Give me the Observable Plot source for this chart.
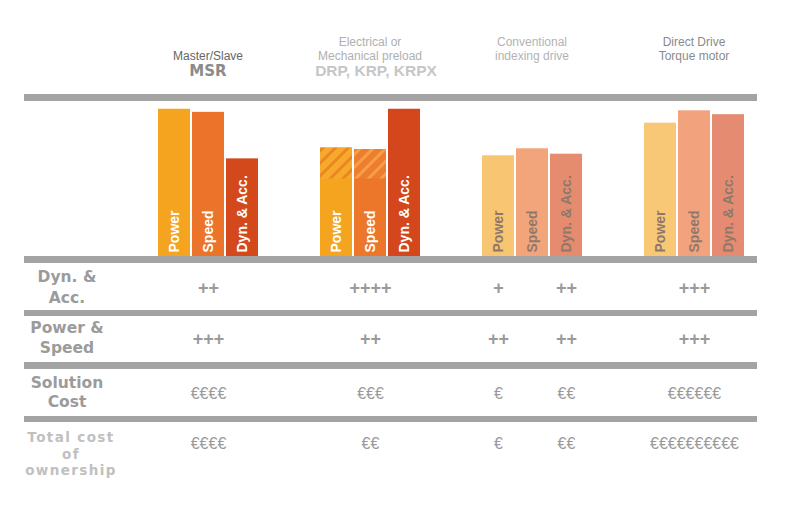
<!DOCTYPE html>
<html><head><meta charset="utf-8">
<script src="https://cdn.jsdelivr.net/npm/d3@7"></script>
<script src="https://cdn.jsdelivr.net/npm/@observablehq/plot@0.6"></script>
<style>
html,body{margin:0;padding:0;background:#fff;}
#wrap{position:relative;width:800px;height:520px;overflow:hidden;font-family:"Liberation Sans",Arial,sans-serif;}
#wrap svg{position:absolute;left:0;top:0;}
.rule{position:absolute;left:24px;width:733px;background:#a3a3a3;}
.rowlabel{position:absolute;width:130px;text-align:center;font-family:"DejaVu Sans",sans-serif;font-weight:bold;color:#9b9b9b;font-size:15.5px;height:18px;line-height:18px;white-space:nowrap;}
.rowlabel.light{color:#c0c0c0;font-size:13.5px;letter-spacing:1.4px;height:16px;line-height:16px;}
</style></head><body><div id="wrap"></div>
<script>
// ---- data ----
const groups = ["MSR", "DRP", "Conventional", "Direct Drive"];
const metrics = ["Power", "Speed", "Dyn. & Acc."];
const msrValues = [9.5, 9.3, 6.3];
const drpValues = [7.0, 6.9, 9.5];
const drpSolidValues = [5.0, 5.0];          // Power, Speed below the hatched preload zone
const convValues = [6.5, 6.95, 6.6];
const ddValues = [8.6, 9.4, 9.15];

const headerLines = {
  "MSR": ["Master/Slave"],
  "DRP": ["Electrical or", "Mechanical preload"],
  "Conventional": ["Conventional", "indexing drive"],
  "Direct Drive": ["Direct Drive", "Torque motor"]
};
const headerBold = {"MSR": "MSR", "DRP": "DRP, KRP, KRPX"};

const rowLabels = [["Dyn. &", "Acc."], ["Power &", "Speed"], ["Solution", "Cost"], ["Total cost", "of", "ownership"]];
const tableCells = [["MSR", "Speed"], ["DRP", "Speed"], ["Conventional", "Power"], ["Conventional", "Dyn. & Acc."], ["Direct Drive", "Speed"]];
const rowDynAcc = ["++", "++++", "+", "++", "+++"];
const rowPowerSpeed = ["+++", "++", "++", "++", "+++"];
const rowSolutionCost = ["€€€€", "€€€", "€", "€€", "€€€€€€"];
const rowTotalCost = ["€€€€", "€€", "€", "€€", "€€€€€€€€€€"];

// ---- styles ----
const barColors = {
  "MSR": ["#F4A41F", "#EB742A", "#D4491C"],
  "DRP": ["#F4A41F", "#EC762A", "#D4461B"],
  "Conventional": ["#F8C672", "#F2A57B", "#E58C6F"],
  "Direct Drive": ["#F8C877", "#F2A37E", "#E48B71"]
};
const labelColors = {"MSR": "#ffffff", "DRP": "#ffffff", "Conventional": "#8f786b", "Direct Drive": "#8f786b"};
const headerColors = {"MSR": "#666666", "DRP": "#b0b0b0", "Conventional": "#b3b3b3", "Direct Drive": "#8a8a8a"};
const boldColors = {"MSR": "#8a8a8a", "DRP": "#c6c6c6"};

// ---- tables built from the arrays ----
const seriesByGroup = {"MSR": msrValues, "DRP": drpValues, "Conventional": convValues, "Direct Drive": ddValues};
const barData = groups.flatMap(g => metrics.map((m, i) => ({group: g, metric: m, value: seriesByGroup[g][i]})));
const hatchData = drpSolidValues.map((v, i) => ({group: "DRP", metric: metrics[i], base: v, value: drpValues[i]}));
const headerData = groups.flatMap(g => headerLines[g].map((t, i) => ({group: g, text: t, fromBottom: headerLines[g].length - 1 - i})));
const boldData = Object.keys(headerBold).map(g => ({group: g, text: headerBold[g]}));
const tableRows = [rowDynAcc, rowPowerSpeed, rowSolutionCost, rowTotalCost].map(row =>
  row.map((t, i) => ({group: tableCells[i][0], col: tableCells[i][1], text: t})));
const rowOffsets = [32, 83, 137, 187];

const marks = [
  Plot.barY(barData, {fx: "group", x: "metric", y: "value",
    fill: d => barColors[d.group][metrics.indexOf(d.metric)]}),
  Plot.barY(hatchData, {fx: "group", x: "metric", y1: "base", y2: "value",
    fill: d => d.metric === "Power" ? "url(#hatchPower)" : "url(#hatchSpeed)"}),
  Plot.text(barData, {fx: "group", x: "metric", text: "metric", frameAnchor: "bottom",
    rotate: -90, textAnchor: "start", lineAnchor: "middle", dy: -4,
    fontSize: 14, fontWeight: "bold", fontFamily: "Liberation Sans, Arial, sans-serif",
    fill: d => labelColors[d.group]}),
  ...[0, 1].map(k => Plot.text(headerData.filter(d => d.fromBottom === k), {
    fx: "group", text: "text", frameAnchor: "top", dy: -45 - 14.5 * k, lineAnchor: "middle",
    fontSize: 12, fill: d => headerColors[d.group]})),
  Plot.text(boldData.filter(d => d.group === "MSR"), {fx: "group", text: "text", frameAnchor: "top", dy: -30, lineAnchor: "middle",
    fontSize: 15, fontWeight: "bold", fontFamily: "DejaVu Sans, sans-serif",
    fill: d => boldColors[d.group]}),
  Plot.text(boldData.filter(d => d.group !== "MSR"), {fx: "group", text: "text", frameAnchor: "top", dy: -30, dx: 6, lineAnchor: "middle",
    fontSize: 15.5, fontWeight: "bold", fontFamily: "Liberation Sans, Arial, sans-serif",
    fill: d => boldColors[d.group]}),
  ...tableRows.map((rows, r) => Plot.text(rows, {fx: "group", x: "col", text: "text",
    frameAnchor: "bottom", dy: rowOffsets[r], lineAnchor: "middle",
    fontSize: r < 2 ? 18 : 16, fontWeight: r < 2 ? "bold" : "normal", fill: "#9a9a9a"}))
];

const chart = Plot.plot({
  width: 800, height: 520,
  marginTop: 101, marginBottom: 264, marginLeft: 156, marginRight: 56,
  style: {fontFamily: "Liberation Sans, Arial, sans-serif", background: "transparent", overflow: "visible"},
  fx: {domain: groups, paddingInner: 0.378, paddingOuter: 0, axis: null, label: null},
  x: {domain: metrics, paddingInner: 0.06, paddingOuter: 0, axis: null, label: null},
  y: {domain: [0, 10], axis: null, label: null},
  color: {type: "identity"},
  marks
});

// hatch patterns for the preload zone
const defs = d3.select(chart).insert("defs", ":first-child");
[["hatchPower", "#F6AA2C", "#EC8625"], ["hatchSpeed", "#EE7D31", "#F5A042"]].forEach(([id, base, stripe]) => {
  const p = defs.append("pattern").attr("id", id).attr("patternUnits", "userSpaceOnUse")
    .attr("width", 9).attr("height", 9).attr("patternTransform", "rotate(45)");
  p.append("rect").attr("width", 9).attr("height", 9).attr("fill", base);
  p.append("rect").attr("width", 3).attr("height", 9).attr("fill", stripe);
});

const wrap = document.getElementById("wrap");
wrap.appendChild(chart);

// horizontal separators
[[94, 7], [256, 7], [310, 6], [362, 7], [416, 6]].forEach(([top, h]) => {
  const d = document.createElement("div");
  d.className = "rule"; d.style.top = top + "px"; d.style.height = h + "px";
  wrap.appendChild(d);
});
// row labels
const labelCenters = [[277, 298], [328, 348], [383, 402], [437, 453.5, 470]];
rowLabels.forEach((lines, r) => lines.forEach((t, i) => {
  const d = document.createElement("div");
  d.className = r === 3 ? "rowlabel light" : "rowlabel";
  d.textContent = t;
  const h = r === 3 ? 16 : 18;
  d.style.top = (labelCenters[r][i] - h / 2) + "px";
  d.style.left = (r === 3 ? 6 : 2) + "px";
  wrap.appendChild(d);
}));
</script></body></html>
